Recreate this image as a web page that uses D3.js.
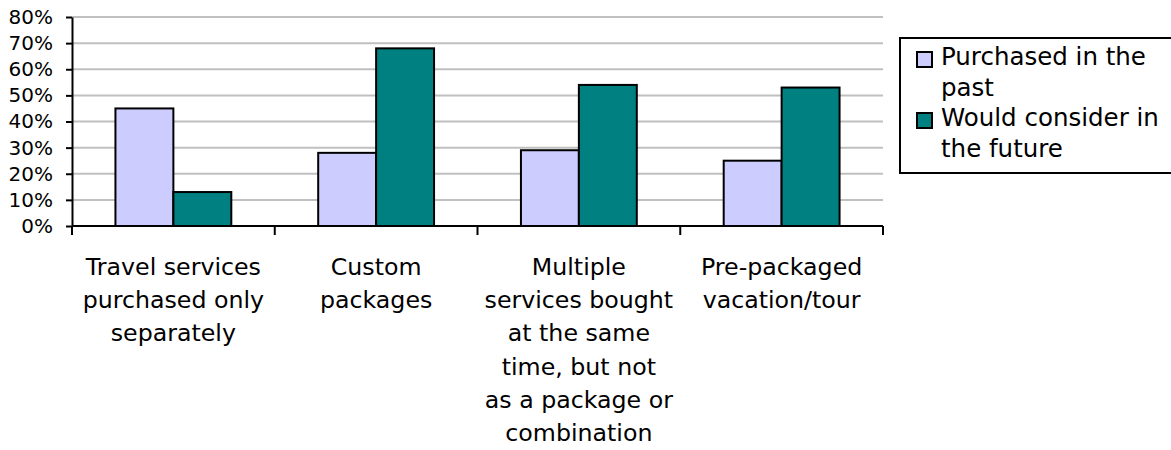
<!DOCTYPE html>
<html>
<head>
<meta charset="utf-8">
<script src="https://cdn.jsdelivr.net/npm/d3@7/dist/d3.min.js"></script>
<style>
  html, body { margin: 0; padding: 0; background: #fff; }
  svg { display: block; font-family: "DejaVu Sans", sans-serif; }
</style>
</head>
<body>
<svg id="chart" width="1171" height="450"></svg>
<script>
// Survey results: share of travellers by purchase type
const categories = [
  ["Travel services", "purchased only", "separately"],
  ["Custom", "packages"],
  ["Multiple", "services bought", "at the same", "time, but not", "as a package or", "combination"],
  ["Pre-packaged", "vacation/tour"]
];
const seriesNames = ["Purchased in the past", "Would consider in the future"];
const legendLines = [["Purchased in the", "past"], ["Would consider in", "the future"]];
const purchasedPast = [45, 28, 29, 25];
const considerFuture = [13, 68, 54, 53];
const yTicks = [0, 10, 20, 30, 40, 50, 60, 70, 80];
const colors = ["#ccccff", "#008080"];

const svg = d3.select("#chart");
const W = 1171, H = 450;
const margin = { left: 72, top: 17, right: W - 883, bottom: H - 226 };

const x0 = d3.scaleBand()
  .domain(d3.range(categories.length))
  .range([margin.left, W - margin.right])
  .paddingInner(0).paddingOuter(0);
const x1 = d3.scaleBand()
  .domain([0, 1])
  .range([0, x0.bandwidth()])
  .paddingOuter(0.75).paddingInner(0);
const y = d3.scaleLinear().domain([0, 80]).range([H - margin.bottom, margin.top]);

// gridlines
svg.append("g")
  .selectAll("line")
  .data(yTicks.filter(d => d > 0))
  .join("line")
  .attr("x1", margin.left).attr("x2", W - margin.right)
  .attr("y1", d => y(d)).attr("y2", d => y(d))
  .attr("stroke", "#c0c0c0").attr("stroke-width", 2);

// bars
const rows = categories.map((c, i) => [purchasedPast[i], considerFuture[i]]);
const groups = svg.append("g").selectAll("g")
  .data(rows)
  .join("g")
  .attr("transform", (d, i) => `translate(${x0(i)},0)`);
groups.selectAll("rect")
  .data(d => d.map((v, j) => ({ v, j })))
  .join("rect")
  .attr("x", d => x1(d.j))
  .attr("y", d => y(d.v))
  .attr("width", x1.bandwidth())
  .attr("height", d => y(0) - y(d.v))
  .attr("fill", d => colors[d.j])
  .attr("stroke", "#000").attr("stroke-width", 2);

// y axis
const yAxis = svg.append("g")
  .attr("transform", `translate(${margin.left},0)`)
  .call(d3.axisLeft(y).tickValues(yTicks).tickFormat(d => d + "%").tickSize(6).tickSizeOuter(0));
yAxis.select(".domain").attr("stroke", "#000").attr("stroke-width", 2);
yAxis.selectAll(".tick line").attr("stroke", "#000").attr("stroke-width", 2);
yAxis.selectAll(".tick text")
  .attr("x", -19)
  .attr("font-size", 20)
  .attr("fill", "#000")
  .attr("font-family", "DejaVu Sans, sans-serif");

// x axis
const xAxis = svg.append("g")
  .attr("transform", `translate(0,${y(0)})`);
xAxis.append("line")
  .attr("x1", margin.left).attr("x2", W - margin.right)
  .attr("stroke", "#000").attr("stroke-width", 2);
const boundaries = d3.range(categories.length + 1).map(i =>
  i < categories.length ? x0(i) : x0(i - 1) + x0.bandwidth());
xAxis.selectAll("line.tk")
  .data(boundaries)
  .join("line").attr("class", "tk")
  .attr("x1", d => d).attr("x2", d => d)
  .attr("y1", 0).attr("y2", 9)
  .attr("stroke", "#000").attr("stroke-width", 2);

// category labels
const labels = svg.append("g").selectAll("text")
  .data(categories)
  .join("text")
  .attr("text-anchor", "middle")
  .attr("font-size", 23.7)
  .attr("fill", "#000");
labels.each(function(lines, i) {
  const cx = x0(i) + x0.bandwidth() / 2;
  d3.select(this).selectAll("tspan")
    .data(lines)
    .join("tspan")
    .attr("x", cx)
    .attr("y", (d, k) => 275 + k * 33.2)
    .text(d => d);
});

// legend
const lg = svg.append("g");
lg.append("rect")
  .attr("x", 900).attr("y", 38).attr("width", 300).attr("height", 135)
  .attr("fill", "#fff").attr("stroke", "#000").attr("stroke-width", 2);
seriesNames.forEach((name, i) => {
  const base = 65 + i * 61;
  lg.append("rect")
    .attr("x", 917).attr("y", base - 13).attr("width", 15).attr("height", 15)
    .attr("fill", colors[i]).attr("stroke", "#000").attr("stroke-width", 2);
  const t = lg.append("text")
    .attr("font-size", 24.5).attr("fill", "#000");
  t.selectAll("tspan")
    .data(legendLines[i])
    .join("tspan")
    .attr("x", 941)
    .attr("y", (d, k) => base + k * 30.5)
    .text(d => d);
});
</script>
</body>
</html>
